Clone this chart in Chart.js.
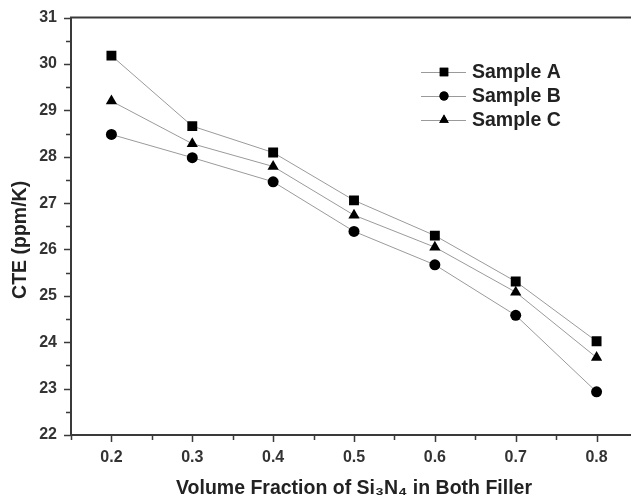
<!DOCTYPE html>
<html>
<head>
<meta charset="utf-8">
<script src="https://cdn.jsdelivr.net/npm/chart.js@4.4.1/dist/chart.umd.min.js"></script>
<style>
  html, body { margin: 0; padding: 0; background: #fff; overflow: hidden; }
  #wrap { width: 645px; height: 500px; }
</style>
</head>
<body>
<div id="wrap"><canvas id="cteChart"></canvas></div>
<script>
// volume fraction of Si3N4
const fractions = [0.2, 0.3, 0.4, 0.5, 0.6, 0.7, 0.8];
const sampleA = [30.18, 28.66, 28.09, 27.06, 26.30, 25.31, 24.02];
const sampleB = [28.48, 27.98, 27.46, 26.39, 25.67, 24.58, 22.93];
const sampleC = [29.20, 28.28, 27.79, 26.74, 26.05, 25.08, 23.67];
const seriesNames = ['Sample A', 'Sample B', 'Sample C'];
const xTickLabels = ['0.2', '0.3', '0.4', '0.5', '0.6', '0.7', '0.8'];
const yTickLabels = ['22', '23', '24', '25', '26', '27', '28', '29', '30', '31'];

const FONT = "'Liberation Sans', Arial, sans-serif";
const AXIS = '#3a3a3a';

function toPoints(values) {
  return values.map((v, i) => ({ x: fractions[i], y: v }));
}

function makeSet(label, values, style, radius, legendRadius) {
  return {
    label: label,
    data: toPoints(values),
    borderColor: '#9a9a9a',
    borderWidth: 1,
    pointStyle: style,
    pointRadius: radius,
    legendRadius: legendRadius,
    pointBackgroundColor: '#000',
    pointBorderColor: '#000',
    pointBorderWidth: 0,
    tension: 0
  };
}

// tick marks (major + minor), top frame line
const frame = {
  id: 'frame',
  afterDraw(chart) {
    const ctx = chart.ctx;
    const area = chart.chartArea;
    const xs = chart.scales.x, ys = chart.scales.y;
    ctx.save();
    ctx.strokeStyle = AXIS;
    ctx.lineWidth = 2;
    ctx.beginPath();
    ctx.moveTo(area.left - 1, area.top);
    ctx.lineTo(area.right, area.top);
    ctx.moveTo(area.right, area.top);
    ctx.lineTo(area.right, area.bottom);
    ctx.stroke();
    ctx.lineWidth = 1.5;
    ctx.beginPath();
    xs.ticks.forEach(t => {
      const major = Math.abs(t.value * 10 - Math.round(t.value * 10)) < 1e-6;
      const px = Math.round(xs.getPixelForValue(t.value)) + 0.5;
      const len = major ? 7 : 5;
      ctx.moveTo(px, area.bottom);
      ctx.lineTo(px, area.bottom + len);
    });
    ys.ticks.forEach(t => {
      const major = Math.abs(t.value - Math.round(t.value)) < 1e-6;
      const py = Math.round(ys.getPixelForValue(t.value)) + 0.5;
      const len = major ? 7 : 5;
      ctx.moveTo(area.left, py);
      ctx.lineTo(area.left - len, py);
    });
    ctx.stroke();
    ctx.restore();
  }
};

// legend drawn inside the plot area
const insideLegend = {
  id: 'insideLegend',
  afterDraw(chart) {
    const ctx = chart.ctx;
    ctx.save();
    chart.data.datasets.forEach((ds, i) => {
      const y = 72 + i * 24;
      ctx.strokeStyle = '#9a9a9a';
      ctx.lineWidth = 1;
      ctx.beginPath();
      ctx.moveTo(421, y + 0.5);
      ctx.lineTo(466, y + 0.5);
      ctx.stroke();
      ctx.fillStyle = '#000';
      Chart.helpers.drawPoint(ctx, {
        pointStyle: ds.pointStyle, radius: ds.legendRadius, borderWidth: 0
      }, 444, y);
      ctx.fill();
      ctx.fillStyle = '#222';
      ctx.font = 'bold 19.5px ' + FONT;
      ctx.textBaseline = 'middle';
      ctx.textAlign = 'left';
      ctx.fillText(ds.label, 472, y + 1);
    });
    ctx.restore();
  }
};

new Chart(document.getElementById('cteChart'), {
  type: 'line',
  data: {
    datasets: [
      makeSet(seriesNames[0], sampleA, 'rect', 7, 6),
      makeSet(seriesNames[1], sampleB, 'circle', 5.5, 4.5),
      makeSet(seriesNames[2], sampleC, 'triangle', 6.5, 5.5)
    ]
  },
  options: {
    responsive: true,
    maintainAspectRatio: false,
    animation: false,
    layout: { padding: { top: 16, right: 8, left: 0, bottom: 0 } },
    plugins: {
      legend: { display: false },
      tooltip: { enabled: false }
    },
    scales: {
      x: {
        type: 'linear',
        min: 0.15,
        max: 0.85,
        afterFit(scale) { scale.height = 65; },
        afterBuildTicks(scale) {
          const t = [];
          for (let k = 3; k <= 17; k++) t.push({ value: k / 20 });
          scale.ticks = t;
        },
        border: { display: true, color: AXIS, width: 2 },
        grid: { drawOnChartArea: false, drawTicks: true, tickLength: 6, color: 'rgba(0,0,0,0)' },
        ticks: {
          autoSkip: false,
          maxRotation: 0,
          padding: 7,
          color: '#333',
          font: { family: FONT, size: 16, weight: 'bold' },
          callback(value) {
            const s = value.toFixed(1);
            const major = Math.abs(value * 10 - Math.round(value * 10)) < 1e-6;
            return major && xTickLabels.includes(s) ? s : '';
          }
        },
        title: {
          display: true,
          text: 'Volume Fraction of Si\u2083N\u2084 in Both Filler',
          color: '#222',
          padding: { top: 3, bottom: 0 },
          font: { family: FONT, size: 19.5, weight: 'bold' }
        }
      },
      y: {
        min: 22,
        max: 31,
        afterFit(scale) { scale.width = 71; },
        afterBuildTicks(scale) {
          const t = [];
          for (let k = 44; k <= 62; k++) t.push({ value: k / 2 });
          scale.ticks = t;
        },
        border: { display: true, color: AXIS, width: 2 },
        grid: { drawOnChartArea: false, drawTicks: true, tickLength: 6, color: 'rgba(0,0,0,0)' },
        ticks: {
          autoSkip: false,
          padding: 8,
          color: '#333',
          font: { family: FONT, size: 16, weight: 'bold' },
          callback(value) {
            const s = String(value);
            return yTickLabels.includes(s) ? s : '';
          }
        },
        title: {
          display: true,
          text: 'CTE (ppm/K)     ',
          color: '#222',
          padding: { top: 9, bottom: 0 },
          font: { family: FONT, size: 19.5, weight: 'bold' }
        }
      }
    }
  },
  plugins: [frame, insideLegend]
});
</script>
</body>
</html>
